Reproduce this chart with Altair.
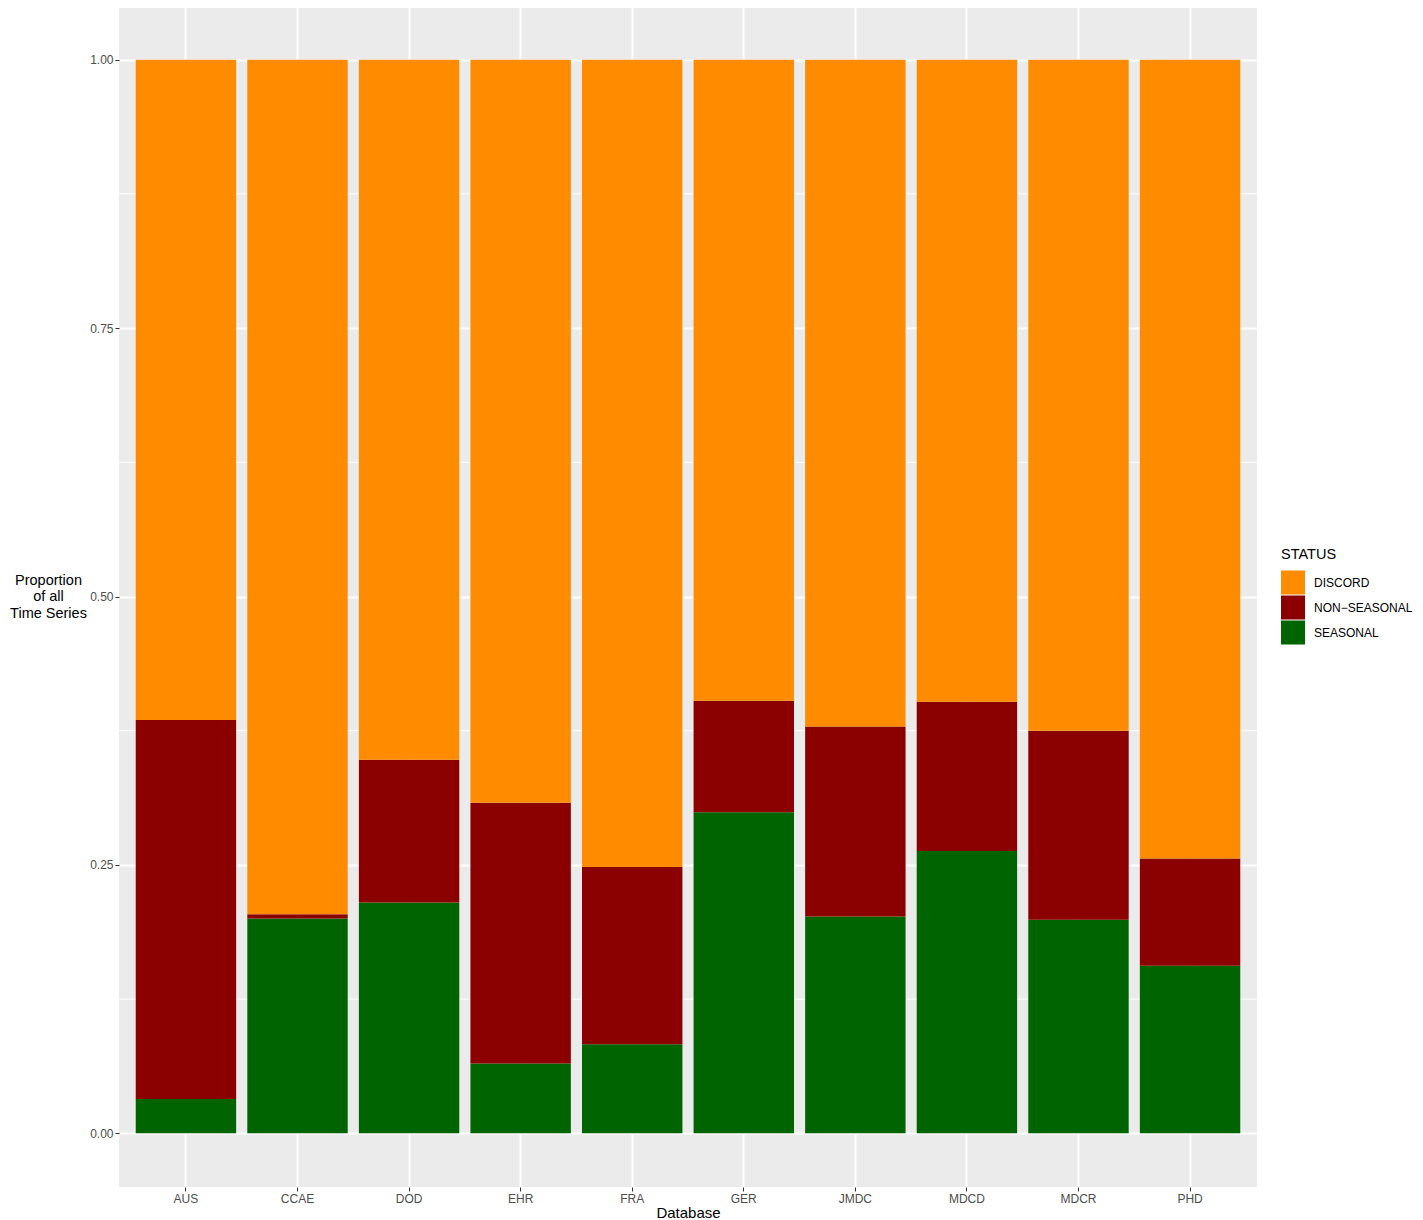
import altair as alt
import pandas as pd

databases = ["AUS", "CCAE", "DOD", "EHR", "FRA", "GER", "JMDC", "MDCD", "MDCR", "PHD"]
seasonal = [0.032, 0.200, 0.215, 0.065, 0.083, 0.299, 0.202, 0.263, 0.199, 0.156]
non_seasonal = [0.353, 0.004, 0.133, 0.243, 0.165, 0.104, 0.177, 0.139, 0.176, 0.100]
discord = [0.615, 0.796, 0.652, 0.692, 0.752, 0.597, 0.621, 0.598, 0.625, 0.744]

statuses = ["DISCORD", "NON-SEASONAL", "SEASONAL"]
colors = ["#FF8C00", "#8B0000", "#006400"]
stack_rank = {"SEASONAL": 0, "NON-SEASONAL": 1, "DISCORD": 2}

y_major = [0.0, 0.25, 0.5, 0.75, 1.0]
y_minor = [0.125, 0.375, 0.625, 0.875]

rows = []
for i, db in enumerate(databases):
    for st, vals in (("SEASONAL", seasonal), ("NON-SEASONAL", non_seasonal), ("DISCORD", discord)):
        rows.append({"Database": db, "STATUS": st, "value": vals[i], "rank": stack_rank[st]})
df = pd.DataFrame(rows)
minor_df = pd.DataFrame({"value": y_minor})

FONT = "Liberation Sans"
PLOT_H = 1181
yscale = alt.Scale(domain=[-0.05, 1.05], nice=False, zero=False)

y_axis = alt.Axis(
    title=["Proportion", "of all", "Time Series"],
    values=y_major,
    format=".2f",
    grid=True,
    gridColor="white",
    gridWidth=2,
    domain=False,
    tickSize=4,
    tickColor="#333333",
    labelColor="#4D4D4D",
    labelFontSize=12,
    labelPadding=2,
    labelFont=FONT,
    titleFont=FONT,
    titleFontSize=14.5,
    titleFontWeight="normal",
    titleColor="black",
    titleAngle=0,
    titleAlign="center",
    titleBaseline="middle",
    titleX=-71,
    titleY=PLOT_H / 2 - 16.5,
    titleLineHeight=16.5,
)

minor = alt.Chart(minor_df).mark_rule(color="white", strokeWidth=1).encode(
    y=alt.Y("value:Q", scale=yscale, axis=y_axis)
)

bars = alt.Chart(df).mark_bar(strokeWidth=0).encode(
    x=alt.X(
        "Database:N",
        sort=databases,
        scale=alt.Scale(paddingInner=0.1, paddingOuter=0.15),
        axis=alt.Axis(
            title="Database",
            labelAngle=0,
            grid=True,
            bandPosition=0.5,
            gridColor="white",
            gridWidth=2,
            domain=False,
            tickSize=4,
            tickColor="#333333",
            labelColor="#4D4D4D",
            labelFontSize=12,
            labelPadding=2,
            labelFont=FONT,
            titleFont=FONT,
            titleFontSize=15,
            titleFontWeight="normal",
            titleColor="black",
            titlePadding=1,
        ),
    ),
    y=alt.Y("value:Q", stack="zero", scale=yscale, axis=y_axis),
    color=alt.Color(
        "STATUS:N",
        scale=alt.Scale(domain=statuses, range=colors),
        legend=alt.Legend(
            title="STATUS",
            orient="none",
            legendX=1162,
            legendY=542,
            symbolType="square",
            symbolSize=576,
            symbolStrokeWidth=0,
            symbolOpacity=1,
            rowPadding=1,
            labelOffset=9,
            labelFontSize=12,
            labelFont=FONT,
            labelColor="black",
            labelExpr="replace(datum.label, '-', '\u2212')",
            titleFont=FONT,
            titleFontSize=14.5,
            titleFontWeight="normal",
            titleColor="black",
            titlePadding=8,
        ),
    ),
    order=alt.Order("rank:Q", sort="ascending"),
)

chart = (
    alt.layer(minor, bars)
    .properties(
        width=1138,
        height=PLOT_H,
        padding={"left": 111, "top": -2, "right": 158, "bottom": 33},
        autosize=alt.AutoSizeParams(type="none"),
    )
    .configure(background="white")
    .configure_view(fill="#EBEBEB", stroke=None)
)

chart.save("out.html", embed_options={"renderer": "svg", "actions": False})
